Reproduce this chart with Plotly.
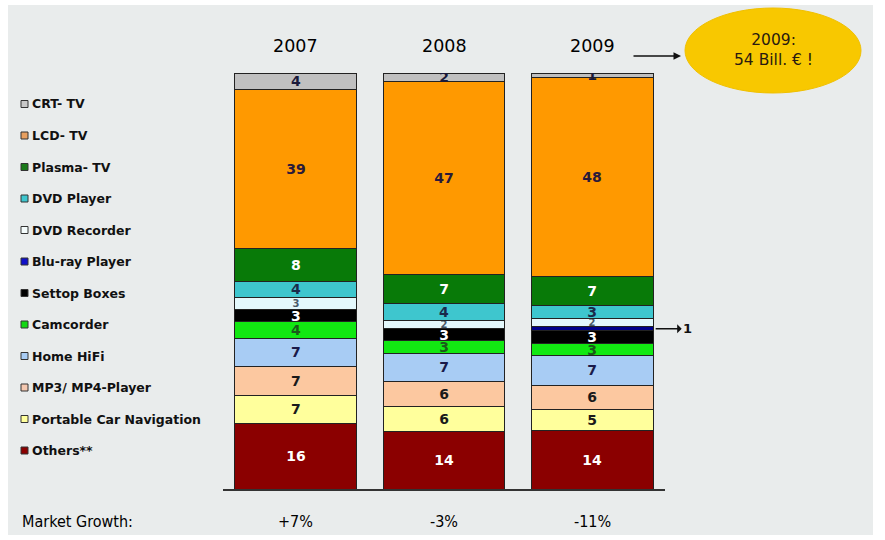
import plotly.graph_objects as go

years = ["2007", "2008", "2009"]
growth = ["+7%", "-3%", "-11%"]

# Segments listed top-to-bottom (as in the legend)
categories = ["CRT- TV", "LCD- TV", "Plasma- TV", "DVD Player", "DVD Recorder",
              "Blu-ray Player", "Settop Boxes", "Camcorder", "Home HiFi",
              "MP3/ MP4-Player", "Portable Car Navigation", "Others**"]

crt = [4, 2, 1]
lcd = [39, 47, 48]
plasma = [8, 7, 7]
dvd_player = [4, 4, 3]
dvd_recorder = [3, 2, 2]
bluray = [0, 0, 1]
settop = [3, 3, 3]
camcorder = [4, 3, 3]
home_hifi = [7, 7, 7]
mp3 = [7, 6, 6]
car_nav = [7, 6, 5]
others = [16, 14, 14]

series = [crt, lcd, plasma, dvd_player, dvd_recorder, bluray, settop,
          camcorder, home_hifi, mp3, car_nav, others]

colors = ["#c0c0c0", "#ff9900", "#087a08", "#3ec6ce", "#e4f8fc", "#00008b",
          "#000000", "#12e812", "#a8ccf4", "#fcc8a0", "#ffff9c", "#8b0000"]
legend_colors = ["#c8c8c8", "#e8a060", "#1a7a1a", "#3ec6ce", "#f4fcfc", "#1010c8",
                 "#000000", "#12d812", "#a8ccf4", "#f4c8b0", "#ffff9c", "#8b0000"]
text_colors = ["#1a1a3a", "#2a1a3a", "#ffffff", "#1a2a4a", "#4a5a6a", "#ffffff",
               "#ffffff", "#1a5a1a", "#1a1a4a", "#1a1a1a", "#1a1a1a", "#ffffff"]

BG = "#e9ecec"
OX, OY = 8, 5            # page offset of the figure
W, H = 865, 530
L = 223 - OX
T = 73 - OY
PW, PH = 442, 416
R = W - L - PW
B = H - T - PH


def px(X):
    return (X - OX - L) / PW


def py(Y):
    return (T + PH - (Y - OY)) / PH


fig = go.Figure()
# Plotly stacks the first trace at the bottom, so add from bottom up
for name, vals, col, tcol in reversed(list(zip(categories, series, colors, text_colors))):
    if name == "Blu-ray Player":
        labels = ["" for v in vals]
    else:
        labels = [str(v) if v > 0 else "" for v in vals]
    small = name == "DVD Recorder"
    fig.add_trace(go.Bar(
        x=years, y=vals, name=name,
        marker=dict(color=col, line=dict(color="#222222", width=1)),
        text=labels, textposition="inside", insidetextanchor="middle",
        constraintext="none",
        textangle=0,
        textfont=dict(family="DejaVu Sans", size=10 if small else 14, color=tcol,
                      weight="bold"),
        width=0.824, showlegend=False, hoverinfo="name+y"))

fig.update_layout(
    barmode="stack", barnorm="percent",
    width=W, height=H, margin=dict(l=L, r=R, t=T, b=B, pad=0),
    paper_bgcolor=BG, plot_bgcolor=BG,
    xaxis=dict(type="category", range=[-0.493, 2.493], showticklabels=False, ticks="",
               showgrid=False, showline=True, linecolor="#333333", linewidth=1.5,
               zeroline=False),
    yaxis=dict(range=[0, 100], visible=False, showgrid=False, zeroline=False),
    font=dict(family="DejaVu Sans"),
)

shapes = []
annotations = []

# Custom legend on the left
for i, (name, col) in enumerate(zip(categories, legend_colors)):
    yc = 104 + 31.5 * i
    shapes.append(dict(type="rect", xref="paper", yref="paper",
                       x0=px(21), x1=px(28), y0=py(yc + 3.5), y1=py(yc - 3.5),
                       fillcolor=col, line=dict(color="#333333", width=1)))
    annotations.append(dict(xref="paper", yref="paper", x=px(30), y=py(yc),
                            xanchor="left", yanchor="middle", text=name, showarrow=False,
                            font=dict(family="DejaVu Sans", size=12.5, color="#111111",
                                      weight="bold")))

# Year labels above the bars
for i, yr in enumerate(years):
    annotations.append(dict(xref="x", yref="paper", x=i, y=py(46), text=yr,
                            showarrow=False, xanchor="center", yanchor="middle",
                            font=dict(family="DejaVu Sans", size=17.5, color="#000000")))

# Market growth row
annotations.append(dict(xref="paper", yref="paper", x=px(20), y=py(521), xanchor="left",
                        yanchor="middle", text="Market Growth:", showarrow=False,
                        font=dict(family="DejaVu Sans Condensed", size=16, color="#000000")))
for i, g in enumerate(growth):
    annotations.append(dict(xref="x", yref="paper", x=i, y=py(521), text=g,
                            showarrow=False, xanchor="center", yanchor="middle",
                            font=dict(family="DejaVu Sans Condensed", size=16, color="#000000")))

# Ellipse with total
shapes.append(dict(type="circle", xref="paper", yref="paper",
                   x0=px(685), x1=px(861), y0=py(93), y1=py(8),
                   fillcolor="#f8c800", line=dict(color="#f0c000", width=1)))
annotations.append(dict(xref="paper", yref="paper", x=px(773), y=py(50),
                        xanchor="center", yanchor="middle",
                        text="2009:<br>54 Bill. € !", showarrow=False,
                        font=dict(family="DejaVu Sans", size=15.5, color="#2a1a10")))
# Arrow from 2009 label to ellipse
annotations.append(dict(xref="paper", yref="paper", x=px(681), y=py(56), ax=-49, ay=0,
                        text="", showarrow=True, arrowhead=2, arrowsize=1, arrowwidth=1.5,
                        arrowcolor="#111111"))

# Blu-ray 2009 callout
idx = categories.index("Blu-ray Player")
tot09 = sum(s[2] for s in series)
below = sum(s[2] for s in series[idx + 1:])
ymid = (below + bluray[2] / 2) / tot09 * 100
annotations.append(dict(xref="x", yref="y", x=2.43, y=ymid, ax=32, ay=0,
                        text=str(bluray[2]), showarrow=True, arrowside="start",
                        arrowhead=2, arrowsize=1, arrowwidth=1.5, arrowcolor="#111111",
                        font=dict(family="DejaVu Sans", size=13, color="#111111",
                                  weight="bold")))

fig.update_layout(shapes=shapes, annotations=annotations)
fig.write_html("out.html",
               post_script="document.body.style.margin='5px 0 0 8px';"
                           "document.body.style.background='#ffffff';")
